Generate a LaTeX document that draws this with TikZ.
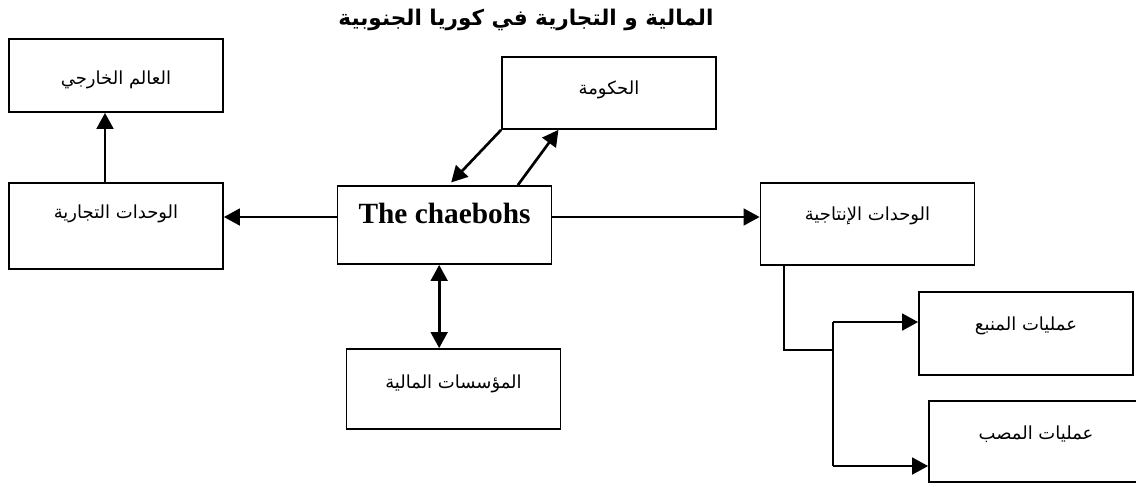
\documentclass[tikz,border=0pt]{standalone}
\usepackage{fontspec}
\setmainfont{Liberation Serif}
\newfontfamily\arabicfont[Script=Arabic]{DejaVu Sans}
\TeXXeTstate=1
\usetikzlibrary{arrows.meta, positioning, calc}

\begin{document}
\begin{tikzpicture}[x=0.75pt, y=-0.75pt]
        \tikzset{
            unit_box/.style={rectangle, draw=black, line width=1.3pt, minimum width=160.5pt, inner sep=0pt, fill=white},
            ar_label/.style={font=\arabicfont\fontsize{13.5}{16}\selectfont},
            link/.style={line width=2pt, -{Triangle[length=12pt, width=12.5pt]}},
            both_link/.style={line width=2pt, {Triangle[length=12pt, width=12.5pt]}-{Triangle[length=12pt, width=12.5pt]}},
            trunk/.style={line width=1.3pt}
        }
        \useasboundingbox (0,0) rectangle (1136,486);

        % title
        \node[font=\arabicfont\bfseries\fontsize{16.2}{19}\selectfont] (title) at (526,20) {\beginR المالية و التجارية في كوريا الجنوبية\endR};

        % boxes
        \node[unit_box, minimum height=54.75pt] (world) at (116,75.5) {};
        \node[ar_label] (world_txt) at ([yshift=-31.5pt]world.north) {\beginR العالم الخارجي\endR};

        \node[unit_box, minimum height=64.5pt] (trading) at (116,226) {};
        \node[ar_label] (trading_txt) at ([yshift=-24pt]trading.north) {\beginR الوحدات التجارية\endR};

        \node[unit_box, minimum height=54pt] (gov) at (609,93) {};
        \node[ar_label] (gov_txt) at ([yshift=-25.5pt]gov.north) {\beginR الحكومة\endR};

        \node[unit_box, minimum height=58.5pt] (chaebohs) at (444.5,225) {};
        \node[font=\bfseries\fontsize{22}{26}\selectfont] (chaebohs_txt) at ([yshift=-21pt]chaebohs.north) {The chaebohs};

        \node[unit_box, minimum height=61.5pt] (prod) at (867.5,224) {};
        \node[ar_label] (prod_txt) at ([yshift=-25.5pt]prod.north) {\beginR الوحدات الإنتاجية\endR};

        \node[unit_box, minimum height=60pt] (finance) at (453.5,389) {};
        \node[ar_label] (finance_txt) at ([yshift=-27pt]finance.north) {\beginR المؤسسات المالية\endR};

        \node[unit_box, minimum height=62.25pt] (upstream) at (1026,333.5) {};
        \node[ar_label] (upstream_txt) at ([yshift=-26.25pt]upstream.north) {\beginR عمليات المنبع\endR};

        \node[unit_box, minimum height=60.75pt] (downstream) at (1036,441.5) {};
        \node[ar_label] (downstream_txt) at ([yshift=-25.5pt]downstream.north) {\beginR عمليات المصب\endR};

        % connectors
        \draw[link] ([yshift=6pt]chaebohs.west) -- ([yshift=6pt]chaebohs.west -| trading.east);
        \draw[link] ([yshift=6pt]chaebohs.east) -- ([yshift=6pt]chaebohs.east -| prod.west);
        \draw[link] ([xshift=-8.25pt]trading.north) -- ([xshift=-8.25pt]world.south);
        \draw[link] (gov.south west) -- ([xshift=5pt, yshift=2pt]chaebohs.north);
        \draw[link] ([xshift=55pt]chaebohs.north) -- ([xshift=43pt]gov.south west);
        \draw[both_link] ([xshift=-4pt]chaebohs.south) -- ([xshift=-4pt]chaebohs.south |- finance.north);

        \coordinate (fork) at (833,350);
        \draw[trunk] ([xshift=-62.6pt]prod.south) |- (fork);
        \draw[trunk] ([yshift=8.6pt]upstream.west -| fork) -- ([yshift=-18.4pt]downstream.west -| fork);
        \draw[link] ([yshift=8.6pt]upstream.west -| fork) -- ([yshift=8.6pt]upstream.west);
        \draw[link] ([yshift=-18.4pt]downstream.west -| fork) -- ([yshift=-18.4pt]downstream.west);

    \end{tikzpicture}
\end{document}
